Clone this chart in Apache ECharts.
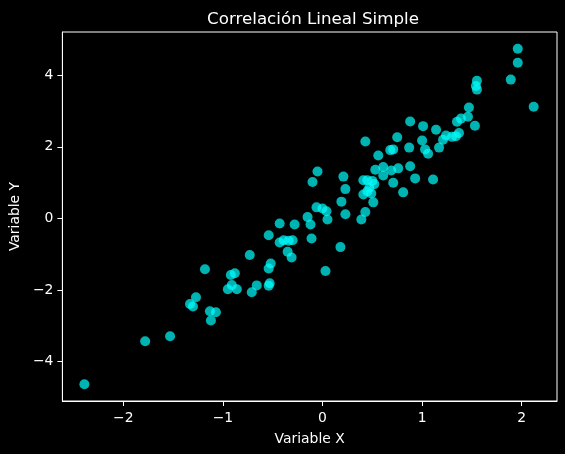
<!DOCTYPE html>
<html>
<head>
<meta charset="utf-8">
<script src="https://cdn.jsdelivr.net/npm/echarts@6/dist/echarts.min.js"></script>
<style>
html, body { margin: 0; padding: 0; background: #000; }
#chart { width: 565px; height: 454px; }
</style>
</head>
<body>
<div id="chart"></div>
<script>
// values
var xValues = [-2.39, -1.78, -1.53, -1.33, -1.30, -1.27, -1.13, -1.07, -1.12, -1.18,
    -0.92, -0.88, -0.95, -0.91, -0.86, -0.73, -0.66, -0.71, -0.54, -0.52,
    -0.54, -0.53, -0.54, -0.43, -0.28, -0.43, -0.39, -0.34, -0.30, -0.35,
    -0.31, -0.15, -0.12, -0.11, -0.10, -0.05, -0.06, 0.00, 0.04, 0.05,
    0.03, 0.18, 0.21, 0.23, 0.19, 0.23, 0.39, 0.43, 0.51, 0.41,
    0.49, 0.45, 0.47, 0.41, 0.45, 0.50, 0.52, 0.43, 0.53, 0.56,
    0.61, 0.61, 0.69, 0.76, 0.71, 0.68, 0.71, 0.75, 0.81, 0.88,
    0.87, 0.88, 0.93, 1.01, 1.00, 1.03, 1.06, 1.11, 1.14, 1.17,
    1.21, 1.24, 1.30, 1.34, 1.37, 1.35, 1.39, 1.46, 1.47, 1.53,
    1.55, 1.54, 1.55, 1.89, 1.96, 1.96, 2.12];
var yValues = [-4.63, -3.43, -3.29, -2.39, -2.46, -2.20, -2.59, -2.62, -2.85, -1.42,
    -1.58, -1.53, -1.98, -1.86, -1.98, -1.02, -1.87, -2.06, -0.47, -1.26,
    -1.40, -1.81, -1.88, -0.14, -0.17, -0.67, -0.61, -0.62, -0.61, -0.93,
    -1.09, 0.04, -0.17, -0.56, 1.02, 1.31, 0.31, 0.28, 0.20, -0.03,
    -1.47, -0.80, 1.17, 0.82, 0.47, 0.12, -0.03, 0.18, 0.45, 0.67,
    0.70, 0.76, 0.86, 1.07, 1.07, 1.05, 0.96, 2.15, 1.36, 1.76,
    1.44, 1.20, 1.34, 1.40, 1.00, 1.91, 1.93, 2.27, 0.73, 1.46,
    1.98, 2.71, 1.12, 2.58, 2.18, 1.93, 1.81, 1.09, 2.48, 1.98,
    2.20, 2.32, 2.28, 2.30, 2.39, 2.70, 2.79, 2.84, 3.10, 2.59,
    3.85, 3.70, 3.60, 3.88, 4.35, 4.74, 3.12];
var xTicks = [-2, -1, 0, 1, 2];
var yTicks = [-4, -2, 0, 2, 4];

var points = [];
for (var i = 0; i < xValues.length; i++) {
    points.push([xValues[i], yValues[i]]);
}

var font = 'DejaVu Sans';
function minusSign(v) {
    return String(v).replace('-', '\u2212');
}

var chart = echarts.init(document.getElementById('chart'), null, { renderer: 'canvas' });
chart.setOption({
    backgroundColor: '#000',
    animation: false,
    title: {
        text: 'Correlación Lineal Simple',
        left: 308,
        top: 6,
        textAlign: 'center',
        textStyle: { color: '#fff', fontFamily: font, fontSize: 16.7, fontWeight: 'normal' }
    },
    grid: {
        left: 60, top: 32, right: 8, bottom: 53,
        show: true, borderColor: '#fff', borderWidth: 1, backgroundColor: '#000'
    },
    xAxis: {
        type: 'value',
        min: -2.611, max: 2.354,
        name: 'Variable X',
        nameLocation: 'middle',
        nameGap: 31,
        nameTextStyle: { color: '#fff', fontFamily: font, fontSize: 13.9 },
        axisLine: { show: true, onZero: false, lineStyle: { color: '#fff', width: 1 } },
        splitLine: { show: false },
        axisTick: { show: true, length: 5, lineStyle: { color: '#fff' }, customValues: xTicks },
        axisLabel: { color: '#fff', fontFamily: font, fontSize: 13.9, margin: 10,
            customValues: xTicks, formatter: minusSign }
    },
    yAxis: {
        type: 'value',
        min: -5.10, max: 5.21,
        name: 'Variable Y',
        nameLocation: 'middle',
        nameRotate: 90,
        nameGap: 33,
        nameTextStyle: { color: '#fff', fontFamily: font, fontSize: 13.9 },
        axisLine: { show: true, onZero: false, lineStyle: { color: '#fff', width: 1 } },
        splitLine: { show: false },
        axisTick: { show: true, length: 5, lineStyle: { color: '#fff' }, customValues: yTicks },
        axisLabel: { color: '#fff', fontFamily: font, fontSize: 13.9, margin: 9,
            customValues: yTicks, formatter: minusSign }
    },
    series: [{
        type: 'scatter',
        data: points,
        symbolSize: 10,
        itemStyle: { color: '#00ffff', opacity: 0.7 }
    }]
});
</script>
</body>
</html>
